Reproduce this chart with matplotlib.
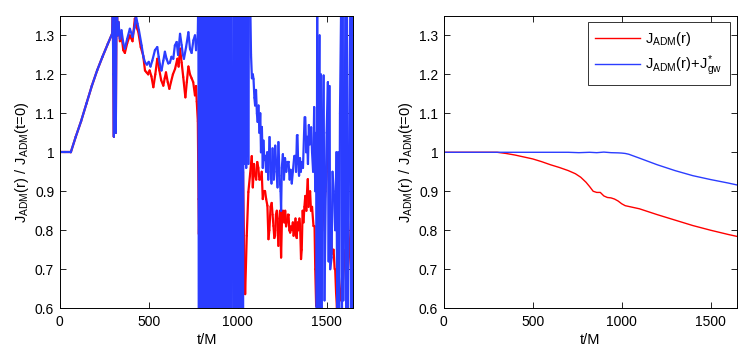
"""
Angular momentum check: J_ADM(r) normalised to its t=0 value, raw
extraction (left) and the corrected curves (right).
Output: out.png
"""

import numpy as np
import matplotlib
matplotlib.use("Agg")
import matplotlib.pyplot as plt
from matplotlib.collections import LineCollection
from matplotlib.ticker import FuncFormatter

plt.rcParams["font.family"] = ["Liberation Sans", "DejaVu Sans"]
plt.rcParams["mathtext.default"] = "regular"
plt.rcParams["path.simplify"] = False   # keep every spike of the noisy curve

OUTPUT_PNG = "out.png"
RED = "#ff0000"
BLUE = "#2b3dff"

# -- Left panel data -----------------------------------------------------------

# early part, both curves identical
t_start = [0, 30, 62, 90, 120, 150, 180, 210, 240, 270, 295,
           298, 301, 304, 308, 312, 315, 318, 322, 326, 330]
j_start = [1.0, 1.0, 1.0, 1.04, 1.08, 1.125, 1.17, 1.21, 1.245, 1.278, 1.305,
           1.37, 1.20, 1.04, 1.37, 1.10, 1.05, 1.30, 1.36, 1.30, 1.334]

# wiggly plateau
t_blue_mid = [338, 347, 357, 366, 379, 394, 409, 420, 428, 437, 445, 460, 470,
              479, 490, 500, 510, 520, 535, 548, 556, 563, 572, 582, 591, 600,
              610, 619, 628, 638, 647, 657, 665, 676, 685, 692, 698, 710, 723,
              732, 741, 751, 760, 766, 773, 776]
j_blue_mid = [1.291, 1.313, 1.280, 1.266, 1.291, 1.317, 1.296, 1.320, 1.351, 1.330,
              1.313, 1.274, 1.245, 1.231, 1.225, 1.232, 1.220, 1.235, 1.262, 1.270,
              1.245, 1.225, 1.210, 1.235, 1.258, 1.240, 1.228, 1.230, 1.245, 1.240,
              1.274, 1.283, 1.250, 1.304, 1.275, 1.250, 1.240, 1.270, 1.308, 1.265,
              1.255, 1.287, 1.300, 1.262, 1.290, 1.308]

t_red_mid = [338, 347, 357, 366, 379, 394, 409, 422, 432, 441, 455, 469, 479,
             488, 497, 505, 515, 526, 537, 548, 560, 570, 582, 590, 597, 607,
             616, 625, 636, 648, 661, 668, 676, 685, 694, 706, 714, 723, 732,
             741, 750, 760, 766, 770, 776, 780, 782]
j_red_mid = [1.285, 1.300, 1.262, 1.255, 1.280, 1.300, 1.285, 1.343, 1.320, 1.310,
             1.270, 1.248, 1.210, 1.205, 1.200, 1.210, 1.195, 1.167, 1.200, 1.240,
             1.210, 1.185, 1.171, 1.190, 1.205, 1.180, 1.163, 1.180, 1.200, 1.214,
             1.240, 1.220, 1.266, 1.230, 1.193, 1.141, 1.180, 1.220, 1.200, 1.190,
             1.180, 1.146, 1.170, 1.130, 1.080, 0.880, 0.790]

# blue blows up between ~780 and ~1065 (values run off the axes)
t_blue_burst = [779, 782, 785, 788, 791, 794, 797, 800, 803, 806, 809, 812, 815,
                818, 821, 824, 827, 830, 833, 836, 839, 842, 845, 848, 851, 854,
                857, 860, 863, 866, 869, 872, 875, 878, 881, 884, 887, 890, 893,
                896, 899, 902, 905, 908, 911, 914, 917, 920, 923, 926, 929, 932,
                935, 938, 941, 944, 947, 950, 953, 956, 959, 962, 965,
                976, 979, 982, 985, 988, 991, 994, 997, 1000, 1003, 1006, 1009,
                1012, 1015, 1018, 1021, 1024, 1027, 1030,
                1033, 1036, 1039, 1042, 1045, 1048, 1051, 1054, 1057, 1060, 1063,
                1066]
j_blue_burst = [1.40, 0.55, 1.41, 0.54, 1.40, 0.56, 1.42, 0.55, 1.40, 0.53, 1.41,
                0.55, 1.40, 0.56, 1.42, 0.55, 1.40, 0.54, 1.41, 0.55, 1.40, 0.56,
                1.40, 0.55, 1.42, 0.54, 1.40, 0.55, 1.41, 0.56, 1.40, 0.55, 1.40,
                0.54, 1.42, 0.55, 1.40, 0.56, 1.41, 0.55, 1.40, 0.54, 1.40, 0.55,
                1.42, 0.56, 1.40, 0.55, 1.41, 0.54, 1.40, 0.55, 1.40, 0.56, 1.42,
                0.55, 1.40, 0.54, 1.41, 0.55, 1.40, 0.56, 1.40,
                0.55, 1.41, 0.54, 1.40, 0.56, 1.42, 0.55, 1.40, 0.54, 1.41, 0.55,
                1.40, 0.56, 1.40, 0.55, 1.42, 0.54, 1.40, 0.57,
                1.40, 0.97, 1.41, 0.98, 1.40, 0.96, 1.42, 0.99, 1.40, 0.97, 1.41,
                1.40]

# noisy tail after the burst
t_blue_tail = [1070, 1075, 1080, 1085, 1089, 1094, 1098, 1103, 1108, 1112, 1117,
               1122, 1127, 1131, 1136, 1141, 1145, 1150, 1154, 1160, 1166, 1172,
               1179, 1185, 1190, 1196, 1203, 1211, 1218, 1224, 1229, 1235, 1241,
               1244, 1248, 1254, 1260, 1266, 1273, 1280, 1286, 1292, 1298, 1304,
               1310, 1318, 1323, 1328, 1333, 1336, 1340, 1345, 1350, 1355, 1360,
               1367, 1376, 1380, 1385, 1390, 1395, 1400, 1405, 1413, 1418, 1424,
               1430, 1436, 1441, 1444, 1447, 1450, 1455, 1460, 1463, 1467, 1472,
               1477, 1483, 1488, 1495, 1500, 1507, 1511, 1516, 1520, 1528, 1533,
               1540, 1548, 1555, 1560, 1565, 1570, 1575, 1582, 1586, 1590, 1594,
               1600, 1606, 1610, 1614, 1620, 1626, 1634, 1638, 1642, 1646, 1650]
j_blue_tail = [1.40, 1.25, 1.19, 1.20, 1.188, 1.14, 1.12, 1.16, 1.10, 1.078, 1.12,
               1.05, 1.10, 1.00, 1.065, 0.96, 1.03, 0.98, 0.991, 0.95, 1.00, 0.93,
               1.039, 0.95, 0.92, 1.01, 0.93, 1.017, 0.95, 0.91, 1.026, 0.94, 0.90,
               0.85, 0.96, 0.995, 0.93, 0.985, 0.95, 0.975, 0.975, 0.93, 0.955, 0.92,
               0.95, 0.99, 0.991, 0.95, 1.043, 1.044, 0.97, 0.94, 0.985, 0.95, 0.975,
               0.96, 1.09, 1.09, 1.00, 1.04, 0.97, 1.07, 1.02, 1.064, 1.00, 0.95,
               1.116, 0.90, 1.05, 0.55, 1.40, 0.55, 1.10, 1.30, 0.58, 1.20, 0.55,
               1.00, 1.197, 0.62, 0.90, 1.05, 1.18, 0.72, 1.17, 0.70, 0.73, 0.95,
               0.90, 0.80, 1.00, 0.55, 1.00, 0.55, 1.10, 1.40, 0.55, 1.40, 0.62,
               0.95, 1.40, 0.55, 1.40, 0.55, 1.00, 1.40, 0.55, 1.40, 0.60, 0.90]

t_red_tail = [790, 850, 900, 960, 1020, 1030, 1036, 1042, 1051, 1060, 1070, 1079,
              1085, 1092, 1098, 1104, 1110, 1116, 1122, 1130, 1135, 1141, 1148,
              1154, 1160, 1167, 1173, 1178, 1185, 1191, 1196, 1201, 1206, 1210,
              1215, 1220, 1225, 1229, 1234, 1238, 1244, 1250, 1257, 1262, 1267,
              1272, 1276, 1281, 1286, 1290, 1295, 1300, 1305, 1310, 1314, 1320,
              1325, 1328, 1332, 1336, 1342, 1347, 1351, 1356, 1360, 1365, 1370,
              1375, 1380, 1386, 1390, 1394, 1398, 1403, 1407, 1412, 1418, 1426,
              1432, 1436, 1441, 1446, 1450, 1456, 1462, 1468, 1475, 1483, 1490,
              1496, 1503, 1507, 1511, 1516, 1522, 1529, 1535, 1539, 1545, 1548,
              1553, 1558, 1563, 1568, 1575, 1582, 1590, 1595, 1605, 1612, 1620,
              1628, 1635, 1640, 1644, 1648, 1652]
j_red_tail = [0.95, 1.10, 0.90, 1.00, 0.90, 0.95, 0.76, 0.636, 0.786, 0.898, 0.945,
              0.99, 0.91, 0.97, 0.94, 0.93, 0.975, 0.96, 0.93, 0.931, 0.95, 0.88,
              0.90, 0.90, 0.88, 0.863, 0.777, 0.80, 0.86, 0.87, 0.84, 0.811, 0.78,
              0.786, 0.84, 0.85, 0.80, 0.76, 0.83, 0.85, 0.73, 0.85, 0.85, 0.82,
              0.85, 0.81, 0.82, 0.84, 0.84, 0.80, 0.794, 0.81, 0.80, 0.82, 0.786,
              0.80, 0.83, 0.786, 0.78, 0.82, 0.80, 0.83, 0.81, 0.726, 0.75, 0.85,
              0.82, 0.86, 0.888, 0.85, 0.90, 0.931, 0.86, 0.88, 0.90, 0.85, 0.86,
              0.811, 0.81, 0.70, 0.606, 0.64, 0.67, 0.74, 0.70, 0.78, 0.80, 0.85,
              0.88, 0.92, 0.98, 1.056, 0.95, 0.90, 0.85, 0.75, 0.74, 0.75, 0.70,
              0.70, 0.64, 0.60, 0.68, 0.67, 0.62, 0.65, 0.70, 0.75, 0.70, 0.65,
              0.70, 0.75, 0.80, 0.85, 0.88, 0.80, 0.75]

# -- Right panel data ----------------------------------------------------------

t_red_corr = [0, 300, 350, 400, 450, 500, 550, 600, 650, 700, 740, 770, 800, 820,
              840, 860, 880, 900, 920, 940, 960, 980, 1000, 1020, 1040, 1100,
              1200, 1300, 1400, 1500, 1600, 1650]
j_red_corr = [1.0, 1.0, 0.997, 0.993, 0.988, 0.983, 0.976, 0.968, 0.961, 0.953,
              0.945, 0.936, 0.923, 0.912, 0.900, 0.897, 0.897, 0.888, 0.884, 0.883,
              0.880, 0.875, 0.868, 0.863, 0.861, 0.855, 0.840, 0.826, 0.812, 0.800,
              0.789, 0.784]

t_blue_corr = [0, 300, 600, 700, 760, 820, 860, 900, 940, 980, 1000, 1020, 1040,
               1100, 1200, 1300, 1400, 1500, 1600, 1650]
j_blue_corr = [1.0, 1.0, 1.0, 1.0, 0.999, 1.0, 0.999, 1.0005, 0.999, 0.9985, 0.998,
               0.997, 0.995, 0.985, 0.968, 0.953, 0.940, 0.930, 0.921, 0.916]

# -- Assemble left-panel series ------------------------------------------------

t_blue = np.concatenate([t_start, t_blue_mid, t_blue_burst, t_blue_tail])
j_blue = np.concatenate([j_start, j_blue_mid, j_blue_burst, j_blue_tail])
t_red = np.concatenate([t_start, t_red_mid, t_red_tail])
j_red = np.concatenate([j_start, j_red_mid, j_red_tail])


def as_segments(t, j):
    # one path per step, so the zig-zag strokes don't cancel each other out
    pts = np.column_stack([t, j])
    return np.stack([pts[:-1], pts[1:]], axis=1)


# -- Plot ----------------------------------------------------------------------

fig = plt.figure(figsize=(7.47, 3.53), dpi=100)
ax1 = fig.add_axes([0.080, 0.127, 0.393, 0.828])
ax2 = fig.add_axes([0.594, 0.127, 0.393, 0.828])

YLABEL = r"$J_{ADM}(r)\ /\ J_{ADM}(t\!=\!0)$"

# wide enough that neighbouring strokes of the burst fully cover each pixel
ax1.add_collection(LineCollection(as_segments(t_red, j_red), colors=RED,
                                  linewidths=1.6, capstyle="round"))
ax1.add_collection(LineCollection(as_segments(t_blue, j_blue), colors=BLUE,
                                  linewidths=1.6, capstyle="round"))

ax2.plot(t_red_corr, j_red_corr, color=RED, lw=1.0, label=r"$J_{ADM}(r)$")
ax2.plot(t_blue_corr, j_blue_corr, color=BLUE, lw=1.0,
         label=r"$J_{ADM}(r)\!+\!J^{*}_{gw}$")

fmt = FuncFormatter(lambda v, pos: f"{v:g}")
for ax in (ax1, ax2):
    ax.set_xlim(0, 1650)
    ax.set_ylim(0.6, 1.35)
    ax.set_xticks([0, 500, 1000, 1500])
    ax.set_yticks([0.6, 0.7, 0.8, 0.9, 1.0, 1.1, 1.2, 1.3])
    ax.yaxis.set_major_formatter(fmt)
    ax.tick_params(direction="in", top=True, right=True, length=4, width=0.6,
                   labelsize=10)
    ax.tick_params(axis="x", pad=5)
    ax.tick_params(axis="y", pad=4)
    for s in ax.spines.values():
        s.set_linewidth(0.7)
    ax.set_xlabel("t/M", fontsize=10.5, labelpad=3)
    ax.set_ylabel(YLABEL, fontsize=10.5, labelpad=3)

leg = ax2.legend(loc="upper right", bbox_to_anchor=(0.975, 0.978), fontsize=10.5,
                 frameon=True, fancybox=False, handlelength=3.1,
                 borderpad=0.5, labelspacing=0.4, handletextpad=0.35,
                 borderaxespad=0)
leg.get_frame().set_edgecolor("black")
leg.get_frame().set_linewidth(0.7)

fig.savefig(OUTPUT_PNG, dpi=100)
print(f"Plot saved: {OUTPUT_PNG}")
